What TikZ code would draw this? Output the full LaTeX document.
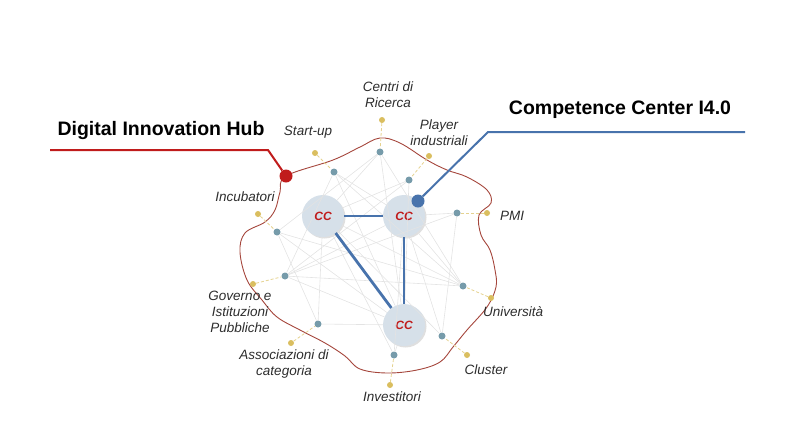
\documentclass[tikz,border=0pt]{standalone}
\usepackage{fontspec}
\setmainfont{Liberation Sans}
\setsansfont{Liberation Sans}
\usepackage{tikz}
\usetikzlibrary{positioning,calc,shadows}
\definecolor{dihrosso}{RGB}{192,28,28}
\definecolor{bordo}{RGB}{165,70,60}
\definecolor{ccblu}{RGB}{72,115,172}
\definecolor{ccfondo}{RGB}{214,224,233}
\definecolor{nodoblu}{RGB}{118,155,170}
\definecolor{nodogiallo}{RGB}{218,190,95}
\definecolor{testo}{RGB}{45,45,45}

\begin{document}
\begin{tikzpicture}[x=1pt,y=-1pt,
  cc/.style={circle, fill=ccfondo, minimum size=42pt, inner sep=0pt,
    drop shadow={opacity=0.25, shadow xshift=1.5pt, shadow yshift=-1.5pt},
    font=\fontsize{12}{13}\selectfont\bfseries\itshape, text=dihrosso},
  attore/.style={circle, fill=nodoblu, minimum size=7pt, inner sep=0pt},
  punto/.style={circle, fill=nodogiallo, minimum size=6pt, inner sep=0pt},
  etich/.style={font=\fontsize{13.5}{16}\selectfont\itshape, text=testo, align=center, inner sep=1pt},
  titolo/.style={font=\fontsize{19.5}{22}\selectfont\bfseries, text=black},
  rete/.style={gray!22, line width=0.6pt},
  legame/.style={nodogiallo!70, densely dashed, line width=0.8pt},
  forte/.style={ccblu, line width=2.8pt}
]
  \useasboundingbox (0,0) rectangle (800,445);

  % Boundary of the ecosystem
  \draw[bordo, line width=0.9pt] plot[smooth cycle, tension=0.6] coordinates {
    (286,176) (333,160) (360,147) (380,138) (400,143) (427,160) (447,170)
    (467,177) (487,190) (491,203) (479,215) (481,235) (490,250) (495,270)
    (496,287) (487,307) (467,330) (453,347) (440,362) (417,370) (387,373)
    (360,369) (345,356) (325,343) (300,330) (277,317) (262,300) (247,280)
    (240,252) (245,233) (265,222) (275,210) (280,192)};

  % Actors
  \node[attore] (ricerca) at (380,152) {};
  \node[attore] (startup) at (334,172) {};
  \node[attore] (player)  at (409,180) {};
  \node[attore] (pmi)     at (457,213) {};
  \node[attore] (incub)   at (277,232) {};
  \node[attore] (governo) at (285,276) {};
  \node[attore] (univ)    at (463,286) {};
  \node[attore] (assoc)   at (318,324) {};
  \node[attore] (cluster) at (442,336) {};
  \node[attore] (invest)  at (394,355) {};

  % Competence centers
  \node[cc] (cc1) at (323,216) {CC};
  \node[cc] (cc2) at (404,216) {CC};
  \node[cc] (cc3) at (404,325) {CC};

  % Network
  \draw[rete] (ricerca) -- (incub);
  \draw[rete] (ricerca) -- (cc3);
  \draw[rete] (ricerca) -- (univ);
  \draw[rete] (ricerca) -- (cc1);
  \draw[rete] (startup) -- (cc2);
  \draw[rete] (startup) -- (univ);
  \draw[rete] (startup) -- (cc3);
  \draw[rete] (startup) -- (governo);
  \draw[rete] (player) -- (cc1);
  \draw[rete] (player) -- (governo);
  \draw[rete] (player) -- (cc3);
  \draw[rete] (pmi) -- (cc2);
  \draw[rete] (pmi) -- (governo);
  \draw[rete] (pmi) -- (cluster);
  \draw[rete] (incub) -- (cc3);
  \draw[rete] (incub) -- (univ);
  \draw[rete] (incub) -- (assoc);
  \draw[rete] (governo) -- (cc2);
  \draw[rete] (governo) -- (univ);
  \draw[rete] (governo) -- (cc3);
  \draw[rete] (univ) -- (cc1);
  \draw[rete] (univ) -- (cc2);
  \draw[rete] (assoc) -- (cc3);
  \draw[rete] (assoc) -- (cc1);
  \draw[rete] (cluster) -- (cc2);
  \draw[rete] (cluster) -- (cc1);
  \draw[rete] (invest) -- (cc1);
  \draw[rete] (invest) -- (cc3);
  \draw[rete] (invest) -- (cc2);
  \draw[forte] (cc1) -- (cc2);
  \draw[forte] (cc1) -- (cc3);
  \draw[forte] (cc2) -- (cc3);

  % Points and labels
  \node[punto] (pricerca) at (382,120) {};
  \node[punto] (pstartup) at (315,153) {};
  \node[punto] (pplayer)  at (429,156) {};
  \node[punto] (ppmi)     at (487,213) {};
  \node[punto] (pincub)   at (258,214) {};
  \node[punto] (pgoverno) at (253,284) {};
  \node[punto] (puniv)    at (491,298) {};
  \node[punto] (passoc)   at (291,343) {};
  \node[punto] (pcluster) at (467,355) {};
  \node[punto] (pinvest)  at (390,385) {};
  \foreach \a in {ricerca,startup,player,pmi,incub,governo,univ,assoc,cluster,invest}
    \draw[legame] (p\a) -- (\a);

  \node[etich] (lricerca) at (388,95)  {Centri di\\Ricerca};
  \node[etich] (lstartup) at (308,132) {Start-up};
  \node[etich] (lplayer)  at (439,133) {Player\\industriali};
  \node[etich, anchor=west] (lpmi) at (499,216) {PMI};
  \node[etich] (lincub)   at (245,197) {Incubatori};
  \node[etich] (lgoverno) at (240,312) {Governo e\\Istituzioni\\Pubbliche};
  \node[etich, anchor=west] (luniv) at (482,312) {Università};
  \node[etich] (lassoc)   at (284,364) {Associazioni di\\categoria};
  \node[etich] (lcluster) at (486,370) {Cluster};
  \node[etich] (linvest)  at (392,397) {Investitori};

  % Digital Innovation Hub
  \node[circle, fill=dihrosso, minimum size=13pt, inner sep=0pt] (dih) at (286,176) {};
  \coordinate (dihfine) at (50,150);
  \coordinate (dihgomito) at (268,150);
  \draw[dihrosso, line width=2pt] (dihfine) -- (dihgomito) -- (dih);
  \node[titolo] (ldih) at (161,130) {Digital Innovation Hub};

  % Competence Center
  \node[circle, fill=ccblu, minimum size=13pt, inner sep=0pt] (ccpunto) at (418,201) {};
  \coordinate (ccgomito) at (488,132);
  \coordinate (ccfine) at (745,132);
  \draw[ccblu, line width=2pt] (ccpunto) -- (ccgomito) -- (ccfine);
  \node[titolo] (lcc) at (620,110) {Competence Center I4.0};
\end{tikzpicture}
\end{document}
